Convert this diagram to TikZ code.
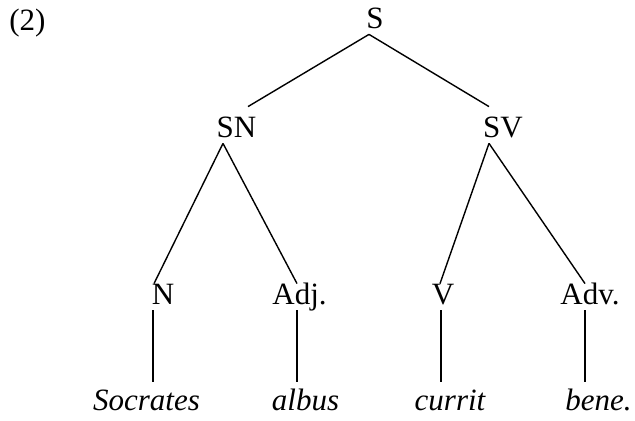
\documentclass[tikz,border=0pt]{standalone}
\usepackage{fontspec}
\setmainfont{Liberation Serif}
\tikzstyle{cat} = [inner sep=0pt, anchor=base, text height=10.5pt, text depth=2.5pt, font=\fontsize{15.5}{18}\selectfont]
\tikzstyle{word} = [cat, font=\fontsize{15.5}{18}\selectfont\itshape]
\tikzstyle{branch} = [line width=0.7pt]
\tikzstyle{stem} = [branch, shorten >=3.5pt]

\begin{document}
\begin{tikzpicture}[x=0.5pt, y=-0.5pt]
  \useasboundingbox (0,0) rectangle (635,421);

  % We start by placing the labels
  \node (ex) [cat, anchor=base west] at (9,31) {(2)};
  \node (s) [cat] at (375,29) {S};
  \node (sn) [cat] at (236.5,138) {SN};
  \node (sv) [cat] at (503,138) {SV};
  \node (n) [cat] at (163,305) {N};
  \node (adj) [cat] at (299.5,305) {Adj.};
  \node (v) [cat] at (443,305) {V};
  \node (adv) [cat] at (590,305) {Adv.};

  % the words at the bottom
  \node (socrates) [word] at (146.5,410) {Socrates};
  \node (albus) [word] at (305.5,410) {albus};
  \node (currit) [word] at (450,410) {currit};
  \node (bene) [word] at (598.5,410) {bene.};

  % draw branches between nodes
  \draw [branch] ([xshift=-3pt]s.south) -- ([xshift=5.75pt, yshift=5pt]sn.north);
  \draw [branch] ([xshift=-3pt]s.south) -- ([xshift=-7pt, yshift=5pt]sv.north);
  \draw [branch] ([xshift=-6.75pt]sn.south) -- ([xshift=-4.5pt]n.north);
  \draw [branch] ([xshift=-6.75pt]sn.south) -- ([xshift=-1.25pt]adj.north);
  \draw [branch] ([xshift=-7pt]sv.south) -- ([xshift=-1.5pt]v.north);
  \draw [branch] ([xshift=-7pt]sv.south) -- ([xshift=-2.5pt]adv.north);

  % vertical stems down to the words
  \draw [stem] ([xshift=-5pt]n.south) -- ([xshift=-5pt]n.south |- socrates.north);
  \draw [stem] ([xshift=-1.25pt]adj.south) -- ([xshift=-1.25pt]adj.south |- albus.north);
  \draw [stem] ([xshift=-1pt]v.south) -- ([xshift=-1pt]v.south |- currit.north);
  \draw [stem] ([xshift=-2.5pt]adv.south) -- ([xshift=-2.5pt]adv.south |- bene.north);

\end{tikzpicture}
\end{document}
